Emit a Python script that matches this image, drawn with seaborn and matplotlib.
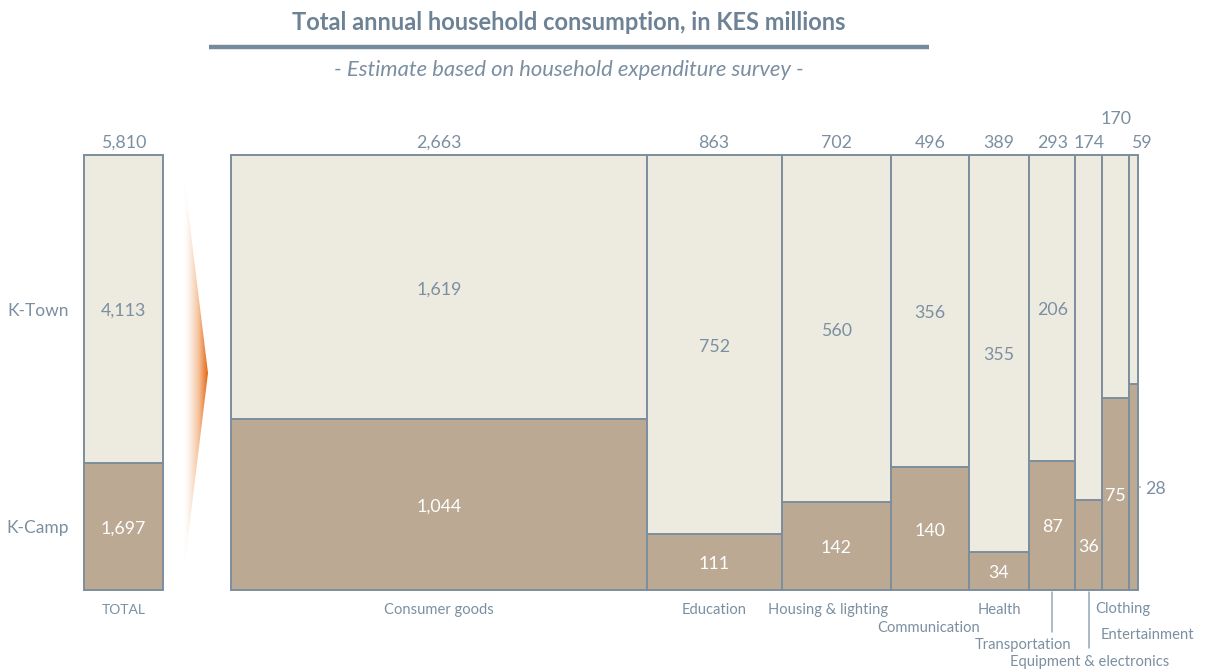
import numpy as np
import pandas as pd
import matplotlib
matplotlib.use("Agg")
import matplotlib.pyplot as plt
from matplotlib.colors import LinearSegmentedColormap
from matplotlib.patches import Polygon
import seaborn as sns

# ---- data (KES millions) ----
categories = ["Consumer goods", "Education", "Housing & lighting", "Communication",
              "Health", "Transportation", "Equipment & electronics", "Clothing",
              "Entertainment"]
k_town = [1619, 752, 560, 356, 355, 206, 138, 95, 31]
k_camp = [1044, 111, 142, 140, 34, 87, 36, 75, 28]
column_totals = [2663, 863, 702, 496, 389, 293, 174, 170, 59]
total_town = 4113
total_camp = 1697
grand_total = 5810

df = pd.DataFrame({"category": categories, "k_town": k_town, "k_camp": k_camp,
                   "total": column_totals})
df["left"] = df["total"].cumsum() - df["total"]
df["center"] = df["left"] + df["total"] / 2
df["camp_share"] = df["k_camp"] / df["total"]
df["town_share"] = df["k_town"] / df["total"]

# ---- style ----
sns.set_theme(style="white")
plt.rcParams["font.family"] = ["Lato", "DejaVu Sans"]

TOWN = "#EDEAE0"
CAMP = "#BBA994"
EDGE = "#7C8E9D"
TXT = "#7B8FA1"
TITLE = "#6D8294"
LEADER = "#95A7B5"
VAL_FS = 12.8

W, H = 1210, 669
fig = plt.figure(figsize=(W / 100, H / 100), dpi=100)
fig.patch.set_facecolor("white")


def px_rect(x0, y0, x1, y1):
    return [x0 / W, 1 - y1 / H, (x1 - x0) / W, (y1 - y0) / H]


# decoration layer in pixel units
deco = fig.add_axes([0, 0, 1, 1], zorder=0)
deco.set_xlim(0, W)
deco.set_ylim(H, 0)
deco.axis("off")

deco.text(569, 23, "Total annual household consumption, in KES millions",
          ha="center", va="center", fontsize=17, fontweight="bold", color=TITLE)
deco.plot([209, 929], [47, 47], color="#758A9B", lw=3.2, solid_capstyle="butt")
deco.text(569, 70, "- Estimate based on household expenditure survey -",
          ha="center", va="center", fontsize=15.8, fontstyle="italic", color=TXT)

# orange gradient chevron between the total and the breakdown
cmap = LinearSegmentedColormap.from_list("chev", ["#FFFFFF", "#F5C29C", "#E5640C"])
grad = np.linspace(0, 1, 256)[None, :] ** 1.4
img = deco.imshow(grad, cmap=cmap, extent=[184, 208, 570, 177], aspect="auto",
                  interpolation="bilinear", zorder=1)
chev = Polygon([[184, 177], [208, 373], [184, 570]], closed=True,
               transform=deco.transData, facecolor="none", edgecolor="none")
deco.add_patch(chev)
img.set_clip_path(chev)
deco.set_xlim(0, W)
deco.set_ylim(H, 0)


def style_axes(ax):
    ax.set_ylim(0, 1)
    ax.axis("off")


def put(ax, x, y, s, dx=0, dy=0, **kw):
    """Place text at data (x, y) shifted by pixel offsets (dy positive = up)."""
    kw.setdefault("ha", "center")
    kw.setdefault("va", "center")
    kw.setdefault("color", TXT)
    kw.setdefault("fontsize", VAL_FS)
    return ax.annotate(s, xy=(x, y), xytext=(dx, dy - 2), textcoords="offset pixels",
                       annotation_clip=False, **kw)


# ---- total column ----
ax_t = fig.add_axes(px_rect(84, 155, 163, 590), zorder=2)
camp_sh_t = total_camp / grand_total
bars = [ax_t.bar(0, camp_sh_t, width=1, align="edge", color=CAMP, edgecolor=EDGE, lw=1.4),
        ax_t.bar(0, 1 - camp_sh_t, width=1, bottom=camp_sh_t, align="edge",
                 color=TOWN, edgecolor=EDGE, lw=1.4)]
for b in bars:
    for p in b:
        p.set_clip_on(False)
ax_t.set_xlim(0, 1)
style_axes(ax_t)
put(ax_t, 0.5, 1, f"{grand_total:,}", dy=14)
put(ax_t, 0.5, camp_sh_t + (1 - camp_sh_t) / 2, f"{total_town:,}")
put(ax_t, 0.5, camp_sh_t / 2, f"{total_camp:,}", color="white")
put(ax_t, 0.5, 0, "TOTAL", dy=-18, fontsize=10)
put(ax_t, 0, camp_sh_t + (1 - camp_sh_t) / 2, "K-Town", dx=-15, ha="right", fontsize=12.5)
put(ax_t, 0, camp_sh_t / 2, "K-Camp", dx=-15, ha="right", fontsize=12.5)

# ---- breakdown marimekko ----
ax = fig.add_axes(px_rect(231, 155, 1138, 590), zorder=2)
b1 = ax.bar(df["left"], df["camp_share"], width=df["total"], align="edge",
            color=CAMP, edgecolor=EDGE, lw=1.4)
b2 = ax.bar(df["left"], df["town_share"], width=df["total"], bottom=df["camp_share"],
            align="edge", color=TOWN, edgecolor=EDGE, lw=1.4)
for b in (b1, b2):
    for p in b:
        p.set_clip_on(False)
ax.set_xlim(0, df["total"].sum())
style_axes(ax)

# top value offsets (px) and category label placement (dx, dy px)
top_off = {"Clothing": (0, 38), "Entertainment": (8, 14)}
cat_off = {
    "Consumer goods": (0, -18), "Education": (0, -18), "Housing & lighting": (-8, -18),
    "Communication": (-1, -36), "Health": (0, -18), "Transportation": (-29, -53),
    "Equipment & electronics": (1, -70), "Clothing": (7, -17), "Entertainment": (14, -43),
}
leaders = {"Transportation": 42, "Equipment & electronics": 58}
px_per_unit_y = 435.0

for _, r in df.iterrows():
    c = r["center"]
    dx, dy = top_off.get(r["category"], (0, 14))
    put(ax, c, 1, f"{r['total']:,}", dx=dx, dy=dy)
    if r["category"] not in ("Equipment & electronics", "Clothing", "Entertainment"):
        put(ax, c, r["camp_share"] + r["town_share"] / 2, f"{r['k_town']:,}")
    if r["category"] != "Entertainment":
        put(ax, c, r["camp_share"] / 2, f"{r['k_camp']:,}", color="white")
    cdx, cdy = cat_off[r["category"]]
    put(ax, c, 0, r["category"], dx=cdx, dy=cdy, fontsize=10.6)
    if r["category"] in leaders:
        ax.plot([c, c], [-2 / px_per_unit_y, -leaders[r["category"]] / px_per_unit_y],
                color=LEADER, lw=1.1, clip_on=False)

# entertainment K-Camp value sits outside its narrow column
ent = df.iloc[-1]
ax.annotate(f"{ent['k_camp']:,}", xy=(ent["left"] + ent["total"], ent["camp_share"] / 2),
            xytext=(7, -2), textcoords="offset pixels", ha="left", va="center",
            fontsize=VAL_FS, color=TXT, annotation_clip=False,
            arrowprops=dict(arrowstyle="-", color=LEADER, lw=1.0, shrinkA=1, shrinkB=1))

fig.savefig("out.png", dpi=100, facecolor="white")
